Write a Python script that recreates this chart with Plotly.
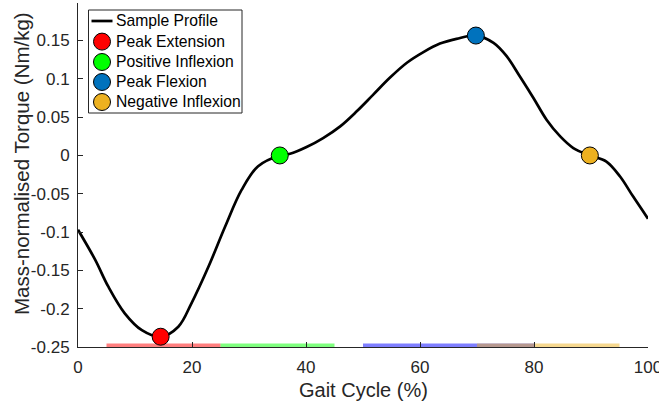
import plotly.graph_objects as go

# Sample torque profile over the gait cycle
gait_pct = [0, 3.0, 5.3, 8.2, 11.2, 14.5, 17.6, 19.9, 22.9, 25.8, 28.7, 31.6,
            35.4, 37.2, 40.1, 43.0, 46.0, 48.9, 51.8, 54.7, 57.7, 60.6, 63.5,
            66.4, 69.8, 72.9, 75.2, 77.5, 79.9, 82.2, 84.6, 86.9, 89.8, 92.7,
            95.1, 97.4, 100]
torque = [-0.097, -0.136, -0.171, -0.206, -0.228, -0.2366, -0.2235, -0.193,
          -0.145, -0.093, -0.045, -0.014, 0.0, 0.0022, 0.011, 0.0227, 0.038,
          0.0576, 0.0794, 0.1013, 0.121, 0.1349, 0.146, 0.1522, 0.1565, 0.147,
          0.1296, 0.1034, 0.0751, 0.0467, 0.0249, 0.0097, 0.0, -0.0079,
          -0.0275, -0.0537, -0.0825]

# Key events on the profile
event_names = ["Peak Extension", "Positive Inflexion", "Peak Flexion", "Negative Inflexion"]
event_x = [14.5, 35.4, 69.8, 89.8]
event_y = [-0.2366, 0.0, 0.1565, 0.0]
event_colors = ["#FF0000", "#00FF00", "#0072BD", "#EDB120"]
profile_name = "Sample Profile"

# Search windows for each event, shown along the bottom of the axes
window_start = [5, 25, 50, 70]
window_end = [25, 45, 80, 95]
window_colors = ["rgba(255,0,0,0.5)", "rgba(0,255,0,0.5)",
                 "rgba(0,0,255,0.5)", "rgba(237,177,32,0.5)"]

y_min, y_max = -0.25, 0.199
y_ticks = [-0.25, -0.2, -0.15, -0.1, -0.05, 0, 0.05, 0.1, 0.15]
y_tick_text = ["-0.25", "-0.2", "-0.15", "-0.1", "-0.05", "0", "0.05", "0.1", "0.15"]
x_ticks = [0, 20, 40, 60, 80, 100]
x_title = "Gait Cycle (%)"
y_title = "Mass-normalised Torque (Nm/kg)"

axis_grey = "#262626"
font_family = "Liberation Sans, Arial, sans-serif"

W, H = 659, 403
M_L, M_R, M_T, M_B = 78, 11, 3, 56
PW, PH = W - M_L - M_R, H - M_T - M_B


def px_x(px):
    """Page pixel column -> paper x."""
    return (px - M_L) / PW


def px_y(py):
    """Page pixel row -> paper y."""
    return (H - M_B - py) / PH


fig = go.Figure()

for xs, xe, c in zip(window_start, window_end, window_colors):
    fig.add_trace(go.Scatter(
        x=[xs, xe], y=[y_min, y_min], mode="lines",
        line=dict(color=c, width=7), showlegend=False, hoverinfo="skip"))

fig.add_trace(go.Scatter(
    x=gait_pct, y=torque, mode="lines", name=profile_name, showlegend=False,
    line=dict(color="black", width=2.7, shape="spline", smoothing=1.0)))

for name, ex, ey, c in zip(event_names, event_x, event_y, event_colors):
    fig.add_trace(go.Scatter(
        x=[ex], y=[ey], mode="markers", name=name, showlegend=False,
        marker=dict(size=17, color=c, line=dict(color="black", width=1))))

# Legend box drawn by hand so its rows stay compact
shapes = [dict(type="rect", xref="paper", yref="paper", layer="above",
               x0=px_x(88.5), x1=px_x(242), y0=px_y(113), y1=px_y(10),
               line=dict(color=axis_grey, width=1), fillcolor="white")]
annotations = []
row_y = [21, 41.6, 62, 82, 102]
sym_x = 102
text_x = 113.5

shapes.append(dict(type="line", xref="paper", yref="paper", layer="above",
                   x0=px_x(91.5), x1=px_x(112.5), y0=px_y(row_y[0]), y1=px_y(row_y[0]),
                   line=dict(color="black", width=2.7)))
for ry, c in zip(row_y[1:], event_colors):
    shapes.append(dict(type="circle", xref="paper", yref="paper", layer="above",
                       xsizemode="pixel", ysizemode="pixel",
                       xanchor=px_x(sym_x), yanchor=px_y(ry),
                       x0=-8.5, x1=8.5, y0=-8.5, y1=8.5,
                       fillcolor=c, line=dict(color="black", width=1)))
for ry, label in zip(row_y, [profile_name] + event_names):
    annotations.append(dict(xref="paper", yref="paper", x=px_x(text_x), y=px_y(ry),
                            xanchor="left", yanchor="middle", showarrow=False,
                            text=label, font=dict(size=15.7, color="black")))

# Axis titles placed as annotations for exact positioning
annotations.append(dict(xref="paper", yref="paper", x=px_x(363.5), y=px_y(390),
                        xanchor="center", yanchor="middle", showarrow=False,
                        borderpad=0, text=x_title,
                        font=dict(size=20, color=axis_grey)))
annotations.append(dict(xref="paper", yref="paper", x=px_x(21), y=px_y(164),
                        xanchor="center", yanchor="middle", showarrow=False,
                        borderpad=0, textangle=-90, text=y_title,
                        font=dict(size=20.5, color=axis_grey)))

fig.update_layout(
    template="none",
    width=W, height=H,
    margin=dict(l=M_L, r=M_R, t=M_T, b=M_B, autoexpand=False),
    paper_bgcolor="white", plot_bgcolor="white",
    font=dict(family=font_family, color=axis_grey, size=17),
    showlegend=False,
    shapes=shapes, annotations=annotations,
    xaxis=dict(
        range=[0, 100], tickvals=x_ticks, ticks="inside", ticklen=5,
        tickcolor=axis_grey, showline=True, linecolor=axis_grey, linewidth=1,
        showgrid=False, zeroline=False, mirror=False, automargin=False,
        ticklabelstandoff=5, ticklabeloverflow="allow",
    ),
    yaxis=dict(
        range=[y_min, y_max], tickvals=y_ticks, ticktext=y_tick_text,
        ticks="inside", ticklen=5, tickcolor=axis_grey,
        showline=True, linecolor=axis_grey, linewidth=1,
        showgrid=False, zeroline=False, mirror=False, automargin=False,
        ticklabelstandoff=4,
    ),
)

fig.write_html("out.html", config={"displayModeBar": False})
